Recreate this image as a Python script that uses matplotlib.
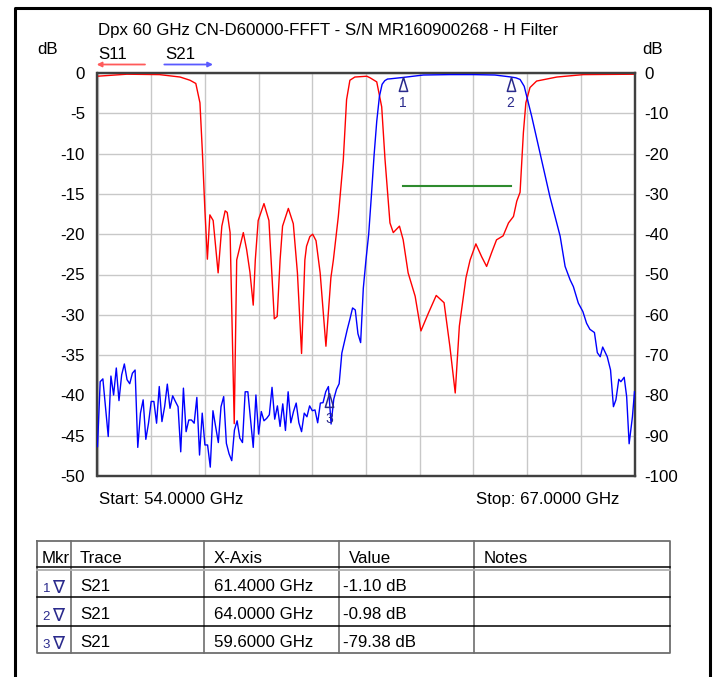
import matplotlib.pyplot as plt
import numpy as np

plt.rcParams['font.family'] = ['Liberation Sans Narrow', 'Liberation Sans', 'DejaVu Sans']

# ---- data ----
title = "Dpx 60 GHz CN-D60000-FFFT - S/N MR160900268 - H Filter"
start_ghz = 54.0
stop_ghz = 67.0

# S11 (left axis, dB)
s11_ghz = [54.00, 54.71, 55.50, 56.00, 56.24, 56.38, 56.48, 56.54, 56.60, 56.66,
           56.72, 56.80, 56.92, 57.01, 57.09, 57.14, 57.21, 57.31, 57.37, 57.45,
           57.53, 57.61, 57.69, 57.77, 57.82, 57.89, 58.03, 58.15, 58.22, 58.28,
           58.35, 58.42, 58.48, 58.62, 58.74, 58.84, 58.94, 59.02, 59.06, 59.14,
           59.21, 59.29, 59.39, 59.53, 59.65, 59.71, 59.83, 59.95, 60.03, 60.11,
           60.23, 60.52, 60.60, 60.76, 60.88, 60.96, 61.08, 61.16, 61.31, 61.40,
           61.52, 61.69, 61.83, 62.01, 62.20, 62.39, 62.53, 62.66, 62.76, 62.92,
           63.02, 63.16, 63.30, 63.42, 63.54, 63.66, 63.82, 63.95, 64.07, 64.15,
           64.23, 64.31, 64.37, 64.47, 64.63, 65.12, 65.76, 67.00]
s11_db = [-0.4, -0.15, -0.2, -0.5, -0.9, -1.3, -3.7, -9.9, -17.0, -23.1,
          -17.6, -18.3, -24.8, -19.0, -17.1, -17.3, -19.8, -43.5, -23.2, -21.5,
          -19.8, -21.9, -24.7, -28.8, -23.2, -18.3, -16.2, -18.3, -24.8, -30.5,
          -30.2, -23.2, -19.0, -16.8, -18.7, -24.8, -34.8, -23.2, -21.5, -20.3,
          -20.0, -20.8, -24.8, -33.9, -25.4, -23.2, -17.8, -10.8, -3.3, -0.9,
          -0.5, -0.4, -0.6, -1.1, -4.2, -10.7, -18.6, -19.8, -19.0, -20.7,
          -24.8, -27.7, -32.0, -29.8, -27.6, -28.5, -33.9, -39.7, -31.4, -25.4,
          -23.2, -21.2, -22.8, -24.0, -22.3, -20.7, -20.2, -18.6, -17.8, -15.9,
          -14.8, -7.4, -3.7, -1.8, -1.0, -0.5, -0.2, -0.15]

# S21 (right axis, dB)
s21_ghz = [54.000, 54.065, 54.130, 54.195, 54.260, 54.325, 54.390, 54.455, 54.520, 54.585,
           54.650, 54.715, 54.780, 54.845, 54.910, 54.975, 55.040, 55.105, 55.170, 55.235,
           55.300, 55.365, 55.430, 55.495, 55.560, 55.625, 55.690, 55.755, 55.820, 55.885,
           55.950, 56.015, 56.080, 56.145, 56.210, 56.275, 56.340, 56.405, 56.470, 56.535,
           56.600, 56.665, 56.730, 56.795, 56.860, 56.925, 56.990, 57.055, 57.120, 57.185,
           57.250, 57.315, 57.380, 57.445, 57.510, 57.575, 57.640, 57.705, 57.770, 57.835,
           57.900, 57.965, 58.030, 58.095, 58.160, 58.225, 58.290, 58.355, 58.420, 58.485,
           58.550, 58.615, 58.680, 58.745, 58.810, 58.875, 58.940, 59.005, 59.070, 59.135,
           59.200, 59.265, 59.330, 59.395, 59.460, 59.525, 59.590, 59.655, 59.720, 59.785,
           59.850, 59.915, 59.980, 60.045, 60.110, 60.175, 60.240, 60.305, 60.370, 60.435,
           60.500, 60.565, 60.630, 60.695, 60.760, 60.825, 60.890, 60.955, 61.020,
           61.08, 61.40, 61.89, 62.53, 63.10, 63.62, 64.00, 64.13, 64.23, 64.33,
           64.39, 64.51, 64.71, 64.95, 65.20, 65.32, 65.44, 65.52, 65.64, 65.75,
           65.84, 65.92, 66.03, 66.10, 66.17, 66.23, 66.34, 66.42, 66.49, 66.55,
           66.62, 66.67, 66.75, 66.81, 66.87, 66.95, 67.00]
s21_db = [-92.7, -76.6, -75.9, -83.0, -90.2, -75.2, -79.9, -73.2, -81.3, -74.9,
          -72.2, -76.1, -77.1, -74.5, -73.7, -92.9, -84.4, -81.1, -90.9, -86.9,
          -81.5, -81.5, -86.9, -77.8, -86.5, -82.8, -77.2, -83.2, -80.1, -81.5,
          -82.8, -94.0, -78.2, -89.0, -86.1, -86.1, -86.9, -80.5, -94.8, -84.4,
          -92.3, -92.3, -97.8, -83.8, -87.7, -91.7, -82.8, -80.3, -91.9, -94.5,
          -96.2, -88.6, -86.3, -90.6, -91.7, -79.1, -79.1, -86.1, -92.9, -79.9,
          -89.6, -84.0, -86.3, -85.7, -84.8, -78.0, -85.9, -82.6, -87.7, -82.1,
          -88.7, -79.1, -86.8, -84.0, -81.9, -86.8, -89.0, -84.4, -85.3, -82.6,
          -83.8, -83.6, -86.8, -81.9, -81.8, -79.1, -77.8, -87.1, -80.9, -78.5,
          -77.1, -69.5, -66.6, -63.7, -61.1, -58.3, -58.8, -64.7, -66.9, -53.4,
          -46.3, -40.0, -30.5, -20.5, -12.0, -5.8, -2.8, -1.9, -1.5,
          -1.45, -1.10, -0.5, -0.4, -0.4, -0.5, -0.98, -1.2, -1.6, -3.3,
          -5.8, -10.7, -19.8, -30.6, -40.5, -48.0, -51.3, -53.0, -57.1, -59.2,
          -62.1, -63.6, -64.4, -69.4, -70.4, -68.0, -70.4, -73.7, -82.8, -81.1,
          -76.0, -76.6, -75.5, -80.3, -92.0, -85.3, -79.1]

# limit line (S11 scale)
limit_ghz = [61.4, 64.0]
limit_db = [-14.0, -14.0]

# markers
mkr_num = [1, 2, 3]
mkr_trace = ["S21", "S21", "S21"]
mkr_ghz = [61.4, 64.0, 59.6]
mkr_db = [-1.10, -0.98, -79.38]

# ---- figure ----
W, H = 716, 677
fig = plt.figure(figsize=(W / 100, H / 100), dpi=100)

red = "#ff0000"
blue = "#0000ff"
navy = "#2a2a8c"
green = "#2e8b2e"
grid_c = "#c8c8c8"
spine_c = "#404040"
fs = 12.2

left, right, top, bottom = 97.5, 634.5, 73.0, 476.0
ax = fig.add_axes([left / W, 1 - bottom / H, (right - left) / W, (bottom - top) / H])
ax2 = ax.twinx()

ax.plot(s11_ghz, s11_db, color=red, lw=1.0, zorder=3)
ax.plot(limit_ghz, limit_db, color=green, lw=1.5, zorder=3)
ax2.plot(s21_ghz, s21_db, color=blue, lw=1.0, zorder=3)

# triangle markers, apex on the trace point
tri = [(0, 0), (-0.3, -1), (0.3, -1), (0, 0)]
ax2.plot(mkr_ghz, mkr_db, ls="none", marker=tri, ms=20, mfc="none",
         mec=navy, mew=1.1, zorder=4)
for n, f, v in zip(mkr_num, mkr_ghz, mkr_db):
    ax2.annotate(str(n), (f, v), xytext=(0, -18.5), textcoords="offset points",
                 ha="center", va="center", color=navy, fontsize=10)

ax.set_xlim(start_ghz, stop_ghz)
ax.set_ylim(-50, 0)
ax2.set_ylim(-100, 0)
ax.set_xticks(np.linspace(start_ghz, stop_ghz, 11))
ax.set_xticklabels([])
ax.set_yticks(np.arange(-50, 1, 5))
ax.set_yticklabels([str(v) for v in np.arange(-50, 1, 5)])
ax2.set_yticks(np.arange(-100, 1, 10))
ax2.set_yticklabels([str(v) for v in np.arange(-100, 1, 10)])
ax.tick_params(length=0, pad=9, labelsize=fs)
ax2.tick_params(length=0, pad=7, labelsize=fs)
ax.grid(True, color=grid_c, lw=1.0)
ax.set_axisbelow(True)
for a in (ax, ax2):
    for s in a.spines.values():
        s.set_color(spine_c)
        s.set_linewidth(1.6)

# ---- overlay for frame, header texts and marker table (pixel coords) ----
ov = fig.add_axes([0, 0, 1, 1], zorder=5)
ov.set_xlim(0, W)
ov.set_ylim(H, 0)
ov.axis("off")

ov.plot([14.5, 14.5, 709.5, 709.5], [H + 5, 7.5, 7.5, H + 5], color="black",
        lw=2.2, clip_on=False)

ov.text(98.3, 35, title, fontsize=fs, va="baseline", ha="left")
ov.text(37, 54, "dB", fontsize=fs, va="baseline", ha="left")
ov.text(642, 54, "dB", fontsize=fs, va="baseline", ha="left")
ov.text(98.3, 59.3, "S11", fontsize=fs, va="baseline", ha="left")
ov.text(165, 59.3, "S21", fontsize=fs, va="baseline", ha="left")
ov.annotate("", xy=(96.7, 64.5), xytext=(145, 64.5),
            arrowprops=dict(arrowstyle="-|>", color="#ff5a5a", lw=1.3,
                            mutation_scale=7, shrinkA=0, shrinkB=0))
ov.annotate("", xy=(213, 64.5), xytext=(164.3, 64.5),
            arrowprops=dict(arrowstyle="-|>", color="#5a5aff", lw=1.3,
                            mutation_scale=7, shrinkA=0, shrinkB=0))
ov.text(99, 504.3, f"Start: {start_ghz:.4f} GHz", fontsize=fs, va="baseline", ha="left")
ov.text(619, 504.3, f"Stop: {stop_ghz:.4f} GHz", fontsize=fs, va="baseline", ha="right")

# marker table
col_x = [36.7, 71, 204, 339.3, 474, 670]
row_y = [540.7, 568.5, 597.3, 625.7, 653.3]
tc = "#6e6e6e"
ov.plot([col_x[0], col_x[-1], col_x[-1], col_x[0], col_x[0]],
        [row_y[0], row_y[0], row_y[-1], row_y[-1], row_y[0]], color=tc, lw=1.3)
for cx in col_x[1:-1]:
    ov.plot([cx, cx], [row_y[0], row_y[-1]], color=tc, lw=1.2)
ov.plot([col_x[0], col_x[-1]], [567.3, 567.3], color="black", lw=1.1)
ov.plot([col_x[0], col_x[-1]], [569.6, 569.6], color="#b0b0b0", lw=1.3)
for ry in row_y[2:4]:
    ov.plot([col_x[0], col_x[-1]], [ry, ry], color="black", lw=1.1)

headers = ["Mkr", "Trace", "X-Axis", "Value", "Notes"]
head_x = [41.7, 80, 214, 349.3, 483.3]
for hx, h in zip(head_x, headers):
    ov.text(hx, 563.3, h, fontsize=fs, va="baseline", ha="left")

base_y = [590.7, 619.0, 647.3]
for by, n, tr, f, v in zip(base_y, mkr_num, mkr_trace, mkr_ghz, mkr_db):
    ov.text(42.5, by + 1, str(n), fontsize=9.5, color=navy, va="baseline", ha="left")
    ov.text(58.5, by + 1, "\u2207", fontsize=13, color=navy, va="baseline",
            ha="center", family=["DejaVu Sans"])
    ov.text(80, by, tr, fontsize=fs, va="baseline", ha="left")
    ov.text(214, by, f"{f:.4f} GHz", fontsize=fs, va="baseline", ha="left")
    ov.text(343.3, by, f"{v:.2f} dB", fontsize=fs, va="baseline", ha="left")

fig.savefig("out.png", dpi=100)
